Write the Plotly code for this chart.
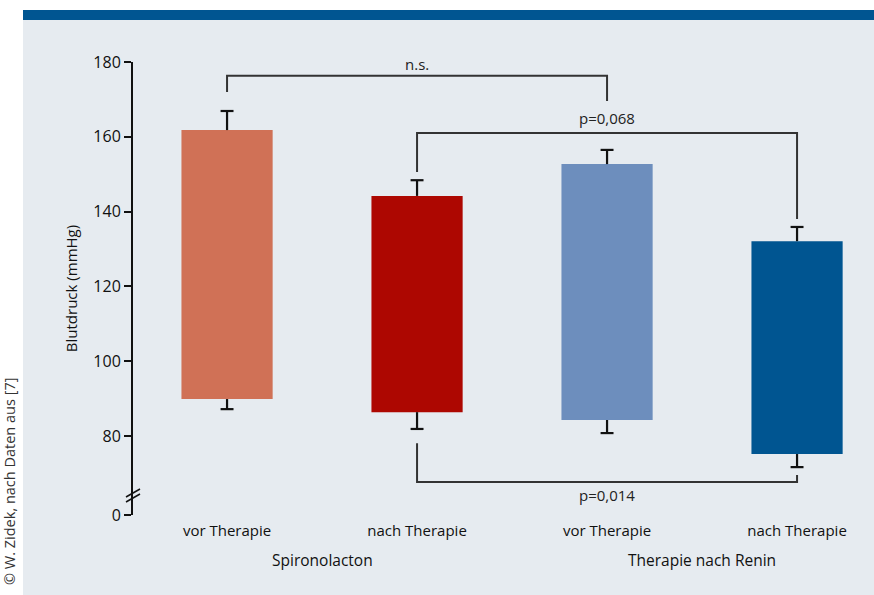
import plotly.graph_objects as go

# ---- data ----
categories = ["vor Therapie", "nach Therapie", "vor Therapie", "nach Therapie"]
groups = ["Spironolacton", "Therapie nach Renin"]
bar_top = [161.8, 144.2, 152.7, 132.1]
bar_bottom = [89.9, 86.4, 84.3, 75.2]
whisker_high = [166.9, 148.4, 156.5, 135.9]
whisker_low = [87.2, 81.9, 80.8, 71.7]
bar_colors = ["#d07156", "#ad0701", "#6d8ebd", "#005591"]

y_tick_values = [80, 100, 120, 140, 160, 180]
y_tick_labels = ["80", "100", "120", "140", "160", "180"]
axis_zero_pos = 58.9  # position where the broken axis shows "0"

# brackets
bracket_left = [0, 1, 1]
bracket_right = [2, 3, 3]
bracket_left_end = [172.0, 150.6, 78.1]
bracket_level = [176.3, 161.0, 67.7]
bracket_right_end = [169.6, 138.0, 69.6]
bracket_labels = ["n.s.", "p=0,068", "p=0,014"]
bracket_label_y = [179.6, 165.0, 64.3]

FONT = "Open Sans"
x = list(range(len(categories)))

fig = go.Figure()

fig.add_trace(go.Bar(
    x=x,
    y=[t - b for t, b in zip(bar_top, bar_bottom)],
    base=bar_bottom,
    width=0.48,
    marker=dict(color=bar_colors, line=dict(width=0)),
    showlegend=False,
    hoverinfo="skip",
))

# whiskers
cap = 0.034
wx, wy = [], []
for i in x:
    for b_end, w_end in ((bar_top[i], whisker_high[i]), (bar_bottom[i], whisker_low[i])):
        wx += [i, i, None, i - cap, i + cap, None]
        wy += [b_end, w_end, None, w_end, w_end, None]
fig.add_trace(go.Scatter(x=wx, y=wy, mode="lines",
                         line=dict(color="#111111", width=2.2),
                         showlegend=False, hoverinfo="skip"))

# brackets
bx, by = [], []
for l, r, le, lv, re_ in zip(bracket_left, bracket_right, bracket_left_end,
                             bracket_level, bracket_right_end):
    bx += [l, l, r, r, None]
    by += [le, lv, lv, re_, None]
fig.add_trace(go.Scatter(x=bx, y=by, mode="lines",
                         line=dict(color="#333333", width=2),
                         showlegend=False, hoverinfo="skip"))

for l, r, lab, ly in zip(bracket_left, bracket_right, bracket_labels, bracket_label_y):
    fig.add_annotation(x=(l + r) / 2, y=ly, text=lab, showarrow=False,
                       font=dict(family=FONT, size=15, color="#222222"),
                       xanchor="center", yanchor="middle")

# plot geometry (pixels)
L, T, W, H = 133, 62, 741, 453
def px(v):
    return (v - L) / W
def py(v):
    return (T + H - v) / H

# background panel and top stripe
fig.add_shape(type="rect", xref="paper", yref="paper",
              x0=px(23), x1=px(880), y0=py(20), y1=py(600),
              fillcolor="#e6ebf0", line=dict(width=0), layer="below")
fig.add_shape(type="rect", xref="paper", yref="paper",
              x0=px(23), x1=px(880), y0=py(10), y1=py(20),
              fillcolor="#005591", line=dict(width=0), layer="below")

# axis break marks
for yy in (493, 498):
    fig.add_shape(type="line", xref="paper", yref="paper",
                  x0=px(126), x1=px(140), y0=py(yy + 4), y1=py(yy - 4),
                  line=dict(color="#111111", width=1.5))

# group labels
for gx, g in zip([0.5, 2.5], groups):
    fig.add_annotation(x=gx, y=py(560), yref="paper", text=g, showarrow=False,
                       font=dict(family=FONT, size=15.5, color="#111111"),
                       xanchor="center", yanchor="middle")

# copyright
fig.add_annotation(x=px(9), y=py(482), xref="paper", yref="paper",
                   text="© W. Zidek, nach Daten aus [7]", textangle=-90,
                   showarrow=False, font=dict(family=FONT, size=14.5, color="#333333"),
                   xanchor="center", yanchor="middle")

fig.update_layout(
    width=874, height=595,
    margin=dict(l=L, r=874 - L - W, t=T, b=595 - T - H),
    paper_bgcolor="white",
    plot_bgcolor="rgba(0,0,0,0)",
    font=dict(family=FONT, size=15, color="#111111"),
    xaxis=dict(range=[-0.495, 3.405], tickvals=x, ticktext=categories,
               showgrid=False, zeroline=False, showline=False,
               ticks="outside", ticklen=2, tickcolor="rgba(0,0,0,0)",
               tickfont=dict(size=15, color="#111111")),
    yaxis=dict(range=[axis_zero_pos, 180],
               tickvals=[axis_zero_pos] + y_tick_values,
               ticktext=["0"] + y_tick_labels,
               showgrid=False, zeroline=False, showline=True,
               linecolor="#111111", linewidth=2,
               ticks="outside", ticklen=7, tickwidth=2, tickcolor="#111111",
               tickfont=dict(size=16, color="#111111"),
               title=dict(text="Blutdruck (mmHg)", standoff=12,
                          font=dict(size=15, color="#111111"))),
)

fig.write_html("out.html", config={"displayModeBar": False},
               post_script="document.body.style.margin='0';document.body.style.overflow='hidden';")
